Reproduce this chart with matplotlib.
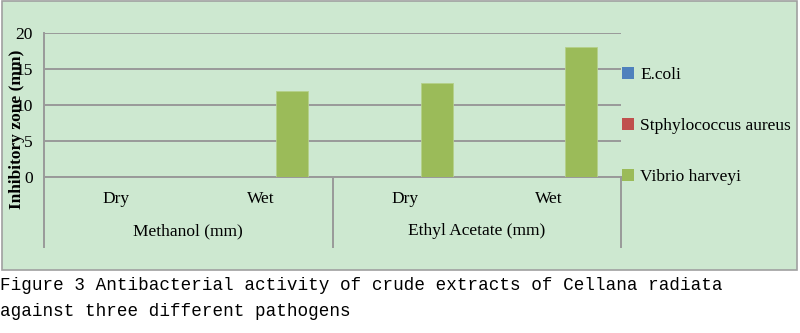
import matplotlib.pyplot as plt
import numpy as np
from matplotlib.patches import Rectangle, Patch

# inhibition zones (mm) for each extract / condition
groups = ['Methanol (mm)', 'Ethyl Acetate (mm)']
conditions = ['Dry', 'Wet', 'Dry', 'Wet']
ecoli = [0, 0, 0, 0]
saureus = [0, 0, 0, 0]
vibrio = [0, 12, 13, 18]
series = ['E.coli', 'Stphylococcus aureus', 'Vibrio harveyi']
colors = ['#4F81BD', '#C0504D', '#9BBB59']

bg = '#CDE8D0'
grid_c = '#999999'
serif = 'Liberation Serif'

fig = plt.figure(figsize=(8, 3.33), dpi=100)
fig.patch.set_facecolor('white')

# green chart area with grey border
fig.patches.append(Rectangle((0.002, 0.188), 0.994, 0.808, transform=fig.transFigure,
                             facecolor=bg, edgecolor='#A0A0A0', linewidth=1.2, zorder=-5))

ax = fig.add_axes([44 / 800, 156 / 333, 577 / 800, 144 / 333])
ax.set_facecolor('none')
ax.set_zorder(2)

x = np.arange(len(conditions))
w = 0.222
for i, vals in enumerate([ecoli, saureus, vibrio]):
    ax.bar(x + (i - 1) * w, vals, w, color=colors[i], edgecolor='#B5D08A',
           linewidth=0.6, zorder=3)

ax.set_xlim(-0.5, 3.5)
ax.set_ylim(0, 20)
ax.set_yticks([0, 5, 10, 15, 20])
ax.set_yticklabels(['0', '5', '10', '15', '20'], fontfamily=serif, fontsize=12.5)
ax.tick_params(axis='y', length=0, pad=8)
ax.set_xticks([])
for s in ax.spines.values():
    s.set_visible(False)
ax.set_axisbelow(True)
ax.yaxis.grid(True, color=grid_c, linewidth=1.4, zorder=1)

# axis lines and group separators below the plot
ax.plot([0, 0], [1, -0.486], transform=ax.transAxes, color=grid_c, lw=1.4, clip_on=False)
ax.plot([0, 1], [0, 0], transform=ax.transAxes, color=grid_c, lw=1.4, clip_on=False)
for xs in [0.5, 1.0]:
    ax.plot([xs, xs], [0, -0.486], transform=ax.transAxes, color=grid_c, lw=1.4, clip_on=False)

tr = ax.get_xaxis_transform()
for xi, c in zip(x, conditions):
    ax.text(xi, -0.15, c, transform=tr, ha='center', va='center',
            fontfamily=serif, fontsize=12.5)
for gi, g in enumerate(groups):
    ax.text(0.5 + 2 * gi, -0.375, g, transform=tr, ha='center', va='center',
            fontfamily=serif, fontsize=12.5)

fig.text(17 / 800, 1 - 129 / 333, 'Inhibitory zone (mm)', rotation=90, ha='center',
         va='center', fontfamily=serif, fontweight='bold', fontsize=12.5)

handles = [Patch(facecolor=c, edgecolor='none') for c in colors]
fig.legend(handles, series, loc='upper left', bbox_to_anchor=(622 / 800, 1 - 67 / 333),
           frameon=False, handlelength=0.7, handleheight=0.7, handletextpad=0.35,
           borderpad=0, borderaxespad=0, labelspacing=2.0,
           prop={'family': serif, 'size': 12.5})

fig.text(0.0, 1 - 285 / 333, 'Figure 3 Antibacterial activity of crude extracts of Cellana radiata',
         ha='left', va='center', fontfamily='Liberation Mono', fontsize=12.7)
fig.text(0.0, 1 - 311 / 333, 'against three different pathogens',
         ha='left', va='center', fontfamily='Liberation Mono', fontsize=12.7)

fig.savefig('out.png', dpi=100)
